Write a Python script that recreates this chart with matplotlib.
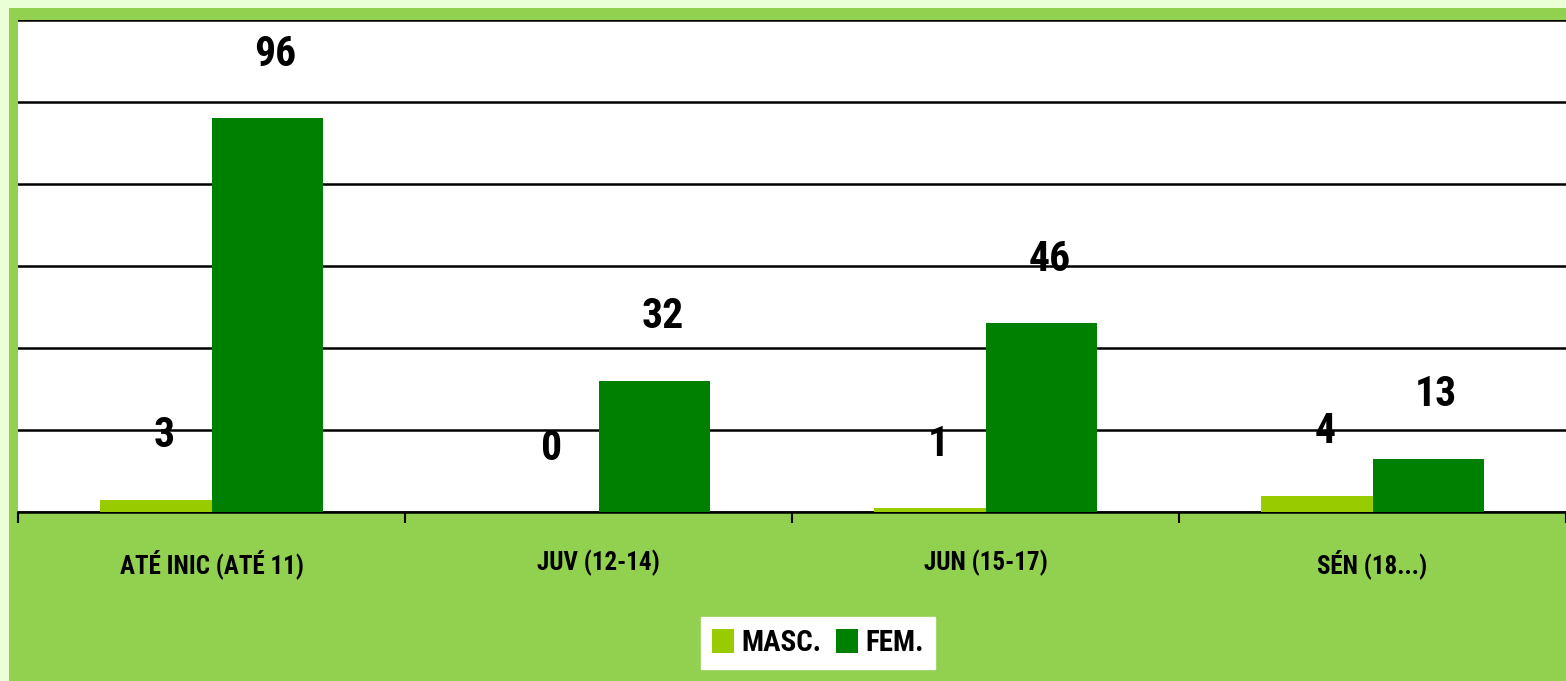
import numpy as np
import matplotlib.pyplot as plt
from matplotlib.patches import Rectangle
from matplotlib import font_manager

categories = ['ATÉ INIC (ATÉ 11)', 'JUV (12-14)', 'JUN (15-17)', 'SÉN (18...)']
masc = [3, 0, 1, 4]
fem = [96, 32, 46, 13]

c_masc = '#99CC00'
c_fem = '#008000'
c_frame = '#92D050'
c_outer = '#EBFFD7'

# pick a narrow bold face if one is installed
names = {f.name for f in font_manager.fontManager.ttflist}
fam = 'DejaVu Sans'
for cand in ['Roboto Condensed', 'Liberation Sans Narrow', 'Open Sans Condensed']:
    if cand in names:
        fam = cand
        break
stretch = 'normal'
if fam == 'DejaVu Sans' and any(f.name == 'DejaVu Sans' and f.stretch == 'condensed'
                                for f in font_manager.fontManager.ttflist):
    stretch = 'condensed'
plt.rcParams['font.family'] = [fam, 'DejaVu Sans']
plt.rcParams['font.stretch'] = stretch

W, H = 1566, 681
fig = plt.figure(figsize=(W / 100, H / 100), dpi=100)
fig.patch.set_facecolor(c_outer)
fig.patches.append(Rectangle((9 / W, 0), 1, 1 - 8 / H, transform=fig.transFigure,
                             facecolor=c_frame, edgecolor='none', zorder=-5))

ax = fig.add_axes([18 / W, 1 - 512 / H, 1 - 18 / W, (512 - 20) / H])
ax.set_facecolor('white')

x = np.arange(len(categories))
w = 0.287
b1 = ax.bar(x - w / 2, masc, w, color=c_masc, label='MASC.', zorder=3)
b2 = ax.bar(x + w / 2, fem, w, color=c_fem, label='FEM.', zorder=3)

for bars, vals in ((b1, masc), (b2, fem)):
    for r, v in zip(bars, vals):
        ax.annotate(str(v), (r.get_x() + r.get_width() / 2, r.get_height()),
                    xytext=(6, 46), textcoords='offset points', ha='center', va='center',
                    fontsize=30, fontweight='bold', zorder=5, annotation_clip=False)

ax.set_xlim(-0.5, len(categories) - 0.5)
ax.set_ylim(0, 120)
ax.set_yticks(np.arange(0, 121, 20))
ax.yaxis.grid(True, color='black', linewidth=1.8, zorder=1)
ax.tick_params(axis='y', left=False, labelleft=False)
ax.set_xticks(np.arange(-0.5, len(categories), 1.0))
ax.set_xticklabels([])
ax.tick_params(axis='x', direction='out', length=8, width=1.5, color='black')
ax.set_xticks(x, minor=True)
ax.set_xticklabels(categories, minor=True, fontsize=18, fontweight='bold')
ax.tick_params(axis='x', which='minor', length=0, pad=27)
for s in ['top', 'right', 'left']:
    ax.spines[s].set_visible(False)
ax.spines['bottom'].set_linewidth(1.8)

leg = fig.legend(handles=[b1, b2], loc='center', bbox_to_anchor=(818 / W, 1 - 643 / H),
                 ncol=2, frameon=True, fancybox=False, framealpha=1, edgecolor='white',
                 prop={'weight': 'bold', 'size': 21}, handlelength=0.75, handleheight=0.9,
                 handletextpad=0.25, columnspacing=0.5, borderpad=0.4)

fig.savefig('out.png', dpi=100, facecolor=fig.get_facecolor())
